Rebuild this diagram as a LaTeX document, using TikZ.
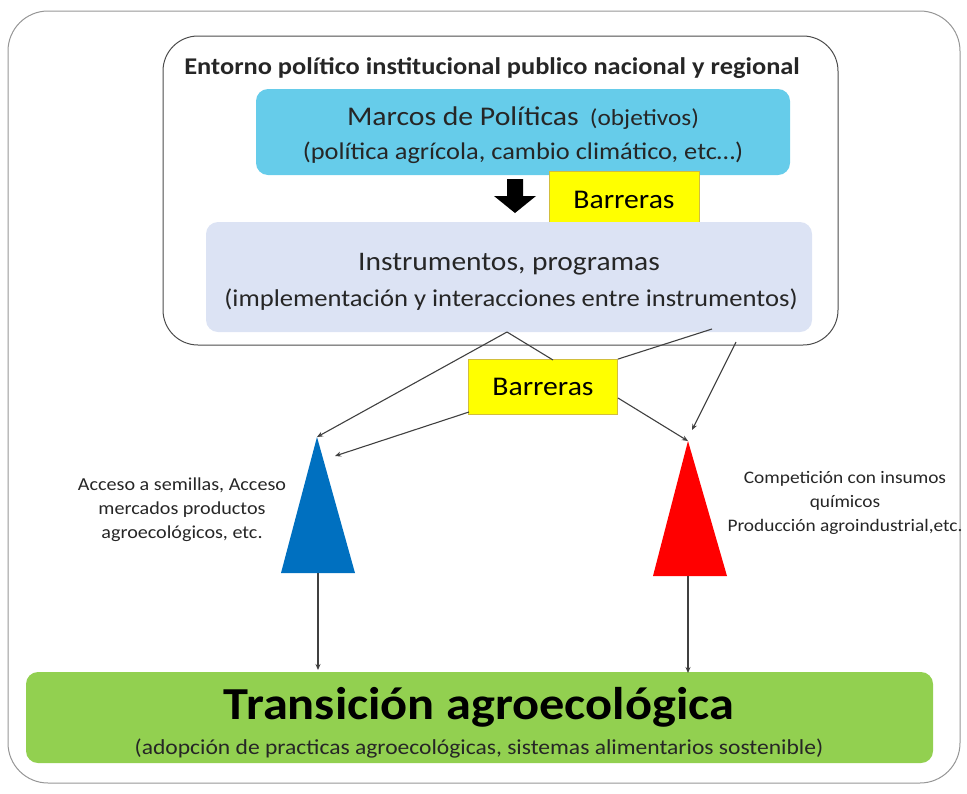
\documentclass[tikz,border=0pt]{standalone}
\usepackage{fontspec}
\setmainfont{Carlito}[FakeStretch=1.1]
\usetikzlibrary{arrows.meta}
\definecolor{cyanbox}{RGB}{102,204,234}
\definecolor{instbox}{RGB}{220,227,244}
\definecolor{greenbox}{RGB}{146,208,80}
\definecolor{yellowbox}{RGB}{255,255,0}
\definecolor{yellowline}{RGB}{210,190,60}
\definecolor{bluetri}{RGB}{0,112,192}
\definecolor{redtri}{RGB}{255,0,0}
\definecolor{framegray}{RGB}{150,150,150}
\begin{document}
\begin{tikzpicture}[x=1pt,y=-1pt,
  fillbox/.style={rounded corners=12, inner sep=0},
  barbox/.style={draw=yellowline, fill=yellowbox, line width=0.8, inner sep=0},
  conn/.style={draw=black!75, line width=1.1},
  connarrow/.style={conn, -{Stealth[length=6,width=5]}},
  txt/.style={inner sep=0, text=black!85}]
\useasboundingbox (0,0) rectangle (967,793);
% outer frame
\draw[framegray, line width=1, rounded corners=40] (8,11) rectangle (960,783);
% inner frame
\draw[black!70, line width=1, rounded corners=35] (163,36) rectangle (838,345);
\node[txt, font=\bfseries\fontsize{24}{28}\selectfont] (title) at (492,68) {Entorno político institucional publico nacional y regional};
% Marcos box
\node[fillbox, fill=cyanbox, minimum width=534, minimum height=86] (marcos) at (523,132) {};
\node[txt, font=\fontsize{27}{31}\selectfont] (marcosA) at (523,118) {Marcos de Políticas\, {\fontsize{23}{27}\selectfont (objetivos)}};
\node[txt, font=\fontsize{24}{28}\selectfont] (marcosB) at (523,153) {(política agrícola, cambio climático, etc…)};
% black arrow
\fill[black] (507,179) -- (523,179) -- (523,196) -- (536,196) -- (515,213) -- (494,196) -- (507,196) -- cycle;
% Barreras 1
\node[barbox, minimum width=150, minimum height=57, font=\fontsize{27}{31}\selectfont] (bar1) at (624,200) {Barreras};
% Instrumentos box
\node[fillbox, fill=instbox, minimum width=606, minimum height=110] (inst) at (509,277) {};
\node[txt, font=\fontsize{26.8}{31}\selectfont] (instA) at (509,264) {Instrumentos, programas};
\node[txt, font=\fontsize{24.2}{28}\selectfont] (instB) at (511,300) {(implementación y interacciones entre instrumentos)};
% Barreras 2
\node[barbox, minimum width=149, minimum height=55, font=\fontsize{27}{31}\selectfont] (bar2) at (543,387) {Barreras};
% triangles
\coordinate (bApex) at (317,437);
\coordinate (rApex) at (688,441);
\coordinate (bBase) at (318,573);
\coordinate (rBase) at (688,576);
\fill[bluetri] (bApex) -- (355,573) -- (281,573) -- cycle;
\fill[redtri] (rApex) -- (727,576) -- (653,576) -- cycle;
% connectors
\coordinate (i1) at (507,332);
\coordinate (i2) at (712,329);
\coordinate (i3) at (736,342);
\coordinate (b2bl) at (469,412);
\coordinate (b2r) at (618,398);
\draw[conn] (i1) -- (553,360);
\draw[connarrow] (i1) -- (bApex);
\draw[connarrow] (b2bl) -- (335,456);
\draw[conn] (i2) -- (bar2.north east);
\draw[connarrow] (i3) -- (692,430);
\draw[connarrow] (b2r) -- (rApex);
% green box
\node[fillbox, fill=greenbox, minimum width=907, minimum height=91] (trans) at (479.5,717.5) {};
\node[txt, font=\bfseries\fontsize{45.8}{52}\selectfont, text=black] (transA) at (479,707) {Transición agroecológica};
\node[txt, font=\fontsize{21.4}{25}\selectfont] (transB) at (479,749) {(adopción de practicas agroecológicas, sistemas alimentarios sostenible)};
\draw[connarrow] (bBase) -- (318,670);
\draw[connarrow] (rBase) -- (688,673);
% side texts
\node[txt, align=center, font=\fontsize{18.3}{24}\selectfont] (leftTxt) at (182,510) {Acceso a semillas, Acceso\\mercados productos\\agroecológicos, etc.};
\node[txt, align=center, font=\fontsize{17.6}{24}\selectfont] (rightTxt) at (845,503) {Competición con insumos\\químicos\\Producción agroindustrial,etc.};
\end{tikzpicture}
\end{document}
